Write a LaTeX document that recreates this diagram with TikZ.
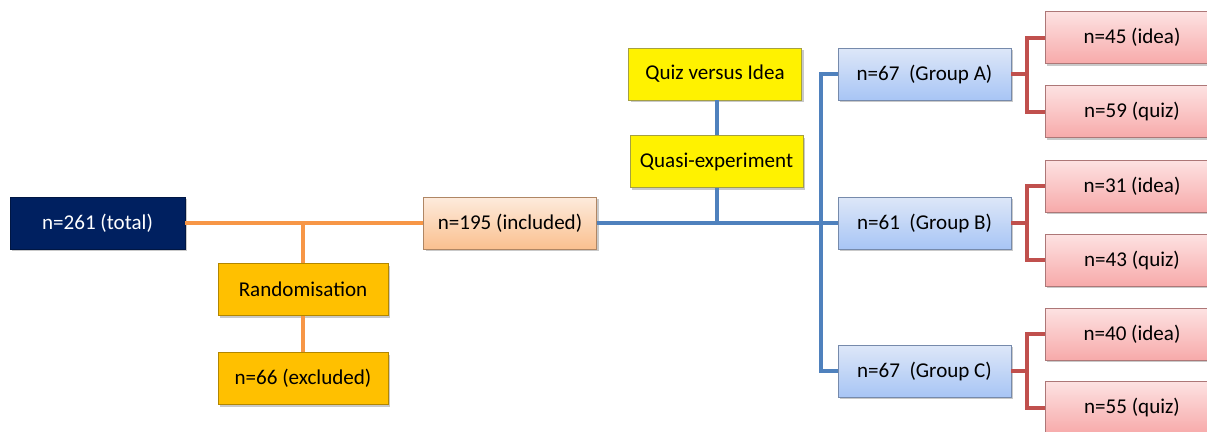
\documentclass[tikz,border=0pt]{standalone}
\usepackage{fontspec}
\setmainfont{Carlito}
\usetikzlibrary{shadows}
\definecolor{navy}{HTML}{002060}
\definecolor{amber}{HTML}{FFC000}
\definecolor{olinec}{HTML}{F79646}
\definecolor{blinec}{HTML}{4F81BD}
\definecolor{rlinec}{HTML}{C0504D}
\definecolor{peachT}{HTML}{FDEBDD}
\definecolor{peachB}{HTML}{FAC08F}
\definecolor{blueT}{HTML}{DDE7F8}
\definecolor{blueB}{HTML}{A8C5F5}
\definecolor{redT}{HTML}{FDE2E2}
\definecolor{redB}{HTML}{F7AAAA}
\begin{document}
\begin{tikzpicture}[x=0.75pt,y=-0.75pt,
  box/.style={draw=black!30, line width=0.5pt, minimum width=129.75pt, minimum height=39pt,
    inner sep=0pt, font=\fontsize{15.8}{18}\selectfont,
    drop shadow={shadow xshift=1.5pt, shadow yshift=-1.8pt, opacity=0.35, fill=black!60}},
  navybox/.style={box, fill=navy, text=white, draw=navy!70!black},
  amberbox/.style={box, fill=amber, draw=amber!70!black},
  yellowbox/.style={box, fill=yellow, draw=yellow!60!black},
  peachbox/.style={box, top color=peachT, bottom color=peachB, draw=peachB!70!black},
  bluebox/.style={box, top color=blueT, bottom color=blueB, draw=blueB!70!black},
  redbox/.style={box, top color=redT, bottom color=redB, draw=redB!70!black, minimum width=130.5pt},
  oline/.style={draw=olinec, line width=3pt},
  bline/.style={draw=blinec, line width=3pt},
  rline/.style={draw=rlinec, line width=3pt}]
\clip (0,0) rectangle (1207,432);
\fill[white] (0,0) rectangle (1207,432);

\node[navybox, minimum width=131.25pt] (total) at (97.5,223) {n=261 (total)};
\node[amberbox, minimum width=127.5pt] (rand) at (303,289.5) {Randomisation};
\node[amberbox, minimum width=127.5pt] (excl) at (303,378.5) {n=66 (excluded)};
\node[peachbox] (incl) at (510,223) {n=195 (included)};
\node[yellowbox] (qvi) at (715,74) {Quiz versus Idea};
\node[yellowbox] (quasi) at (716.5,161.5) {Quasi-experiment};
\node[bluebox] (gA) at (924.5,74) {n=67\ \ (Group A)};
\node[bluebox] (gB) at (924.5,223) {n=61\ \ (Group B)};
\node[bluebox] (gC) at (924.5,371) {n=67\ \ (Group C)};
\node[redbox] (ideaA) at (1132,37.5) {n=45 (idea)};
\node[redbox] (quizA) at (1132,111.5) {n=59 (quiz)};
\node[redbox] (ideaB) at (1132,186) {n=31 (idea)};
\node[redbox] (quizB) at (1132,260) {n=43 (quiz)};
\node[redbox] (ideaC) at (1132,334) {n=40 (idea)};
\node[redbox] (quizC) at (1132,407.5) {n=55 (quiz)};

% orange connectors
\draw[oline] (total.east) -- (incl.west);
\draw[oline] (rand.north) -- (rand.north |- total.east);
\draw[oline] (rand.south) -- (excl.north);

% blue connectors
\draw[bline] (incl.east) -- (gB.west);
\draw[bline] (qvi.south -| quasi.south) -- (quasi.north);
\draw[bline] (quasi.south) -- (quasi.south |- incl.east);
\draw[bline] (gA.west) -- ++(-17,0) |- (gC.west);

% red connectors
\foreach \g/\i/\q in {gA/ideaA/quizA, gB/ideaB/quizB, gC/ideaC/quizC}{
  \draw[rline] (\g.east) -- ++(16,0);
  \draw[rline] (\i.west) -- ++(-18,0) |- (\q.west);
}
\end{tikzpicture}
\end{document}
